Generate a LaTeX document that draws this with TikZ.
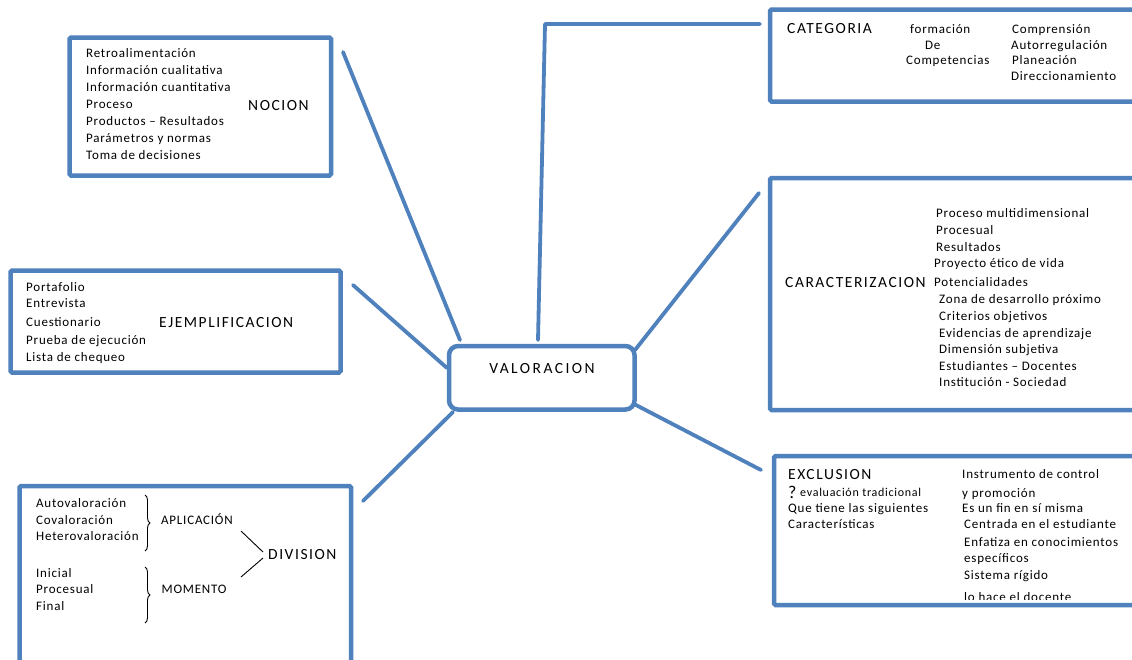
\documentclass[tikz,border=0pt]{standalone}
\usepackage{fontspec}
\setmainfont{Carlito}
\newfontfamily\smallf{Carlito}[LetterSpace=6]
\newfontfamily\labf{Carlito}[LetterSpace=10]
\newfontfamily\valf{Carlito}[LetterSpace=16]
\usetikzlibrary{decorations.pathreplacing}
\definecolor{mapblue}{RGB}{79,129,189}
\begin{document}
\begin{tikzpicture}[x=1pt,y=-1pt,
  box/.style={draw=mapblue,line width=4.5pt,rounded corners=1.5pt,outer sep=0pt,inner sep=0pt,anchor=north west},
  valbox/.style={draw=mapblue,line width=4.5pt,rounded corners=9pt,outer sep=0pt,inner sep=0pt},
  conn/.style={draw=mapblue,line width=3.8pt,line cap=round},
  txt/.style={anchor=base west,inner sep=0pt,yshift=-4.3pt,font=\smallf\fontsize{13}{17}\selectfont},
  lab/.style={anchor=base west,inner sep=0pt,yshift=-5pt,font=\labf\fontsize{15.5}{18}\selectfont},
  thin/.style={draw=black,line width=0.9pt}]
\clip (0,0) rectangle (1132,659);
\fill[white] (0,0) rectangle (1132,659);

% ---- boxes ----
\node[box,minimum width=261.5pt,minimum height=138pt] (nocbox) at (69.5,37.5) {};
\node[box,minimum width=400pt,minimum height=92pt] (catbox) at (770,9.5) {};
\node[box,minimum width=400pt,minimum height=232pt] (carbox) at (770,178) {};
\node[box,minimum width=400pt,minimum height=149pt] (excbox) at (774,456) {};
\node[box,minimum width=330pt,minimum height=102pt] (ejebox) at (10.5,270.5) {};
\node[box,minimum width=331.5pt,minimum height=200pt] (divbox) at (19.5,486) {};
\node[valbox,minimum width=185.5pt,minimum height=63.5pt] (val) at (541.75,377.75) {};
\node[anchor=base,inner sep=0pt,font=\valf\fontsize{15.5}{18}\selectfont] (valt) at (542,373) {VALORACION};

% ---- connectors ----
\coordinate (vn1) at (460,340);  \coordinate (en1) at (343,52);
\coordinate (vn2) at (538,340);  \coordinate (bend2) at (545,24); \coordinate (en2) at (760,24);
\coordinate (vn3) at (635,350);  \coordinate (en3) at (759,193);
\coordinate (vn4) at (634,404);  \coordinate (en4) at (761,470);
\coordinate (vn5) at (447,368);  \coordinate (en5) at (353,285);
\coordinate (vn6) at (453,412);  \coordinate (en6) at (363,501);
\draw[conn] (vn1) -- (en1);
\draw[conn,line join=round] (vn2) -- (bend2) -- (en2);
\draw[conn] (vn3) -- (en3);
\draw[conn] (vn4) -- (en4);
\draw[conn] (vn5) -- (en5);
\draw[conn] (vn6) -- (en6);

% ---- NOCION ----
\foreach \t [count=\i] in {Retroalimentación,Información cualitativa,Información cuantitativa,Proceso,Productos – Resultados,Parámetros y normas,Toma de decisiones}
  \node[txt] (noc\i) at (86,36+17*\i) {\t};
\node[lab] (noc) at (248,105) {NOCION};

% ---- CATEGORIA ----
\node[lab] (cat) at (787,28) {CATEGORIA};
\node[txt] (cata1) at (910,29) {formación};
\node[txt] (cata2) at (925,45) {De};
\node[txt] (cata3) at (906,60) {Competencias};
\node[txt] (catb1) at (1012,29) {Comprensión};
\node[txt] (catb2) at (1011,45) {Autorregulación};
\node[txt] (catb3) at (1012,60) {Planeación};
\node[txt] (catb4) at (1011,76) {Direccionamiento};

% ---- CARACTERIZACION ----
\node[lab] (car) at (785,282) {CARACTERIZACION};
\foreach \x/\y/\t [count=\i] in {936/213/Proceso multidimensional,936/230/Procesual,936/247/Resultados,934/263/Proyecto ético de vida,934/282/Potencialidades,939/299/Zona de desarrollo próximo,939/316/Criterios objetivos,939/333/Evidencias de aprendizaje,939/349/Dimensión subjetiva,939/366/Estudiantes – Docentes,939/382/Institución - Sociedad}
  \node[txt] (car\i) at (\x,\y) {\t};

% ---- EXCLUSION ----
\node[lab] (exc) at (788,474) {EXCLUSION};
\node[anchor=base west,inner sep=0pt,font=\fontsize{18}{18}\selectfont] (excq) at (788,498) {?};
\node[txt,font=\smallf\fontsize{12}{17}\selectfont] (exca1) at (800,492) {evaluación tradicional};
\node[txt] (exca2) at (788,508) {Que tiene las siguientes};
\node[txt] (exca3) at (788,524) {Características};
\node[txt] (excb1) at (962,474) {Instrumento de control};
\node[txt] (excb2) at (962,493) {y promoción};
\node[txt] (excb3) at (962,508) {Es un fin en sí misma};
\node[txt] (excb4) at (964,524) {Centrada en el estudiante};
\node[txt] (excb5) at (964,542) {Enfatiza en conocimientos};
\node[txt] (excb6) at (964,558) {específicos};
\node[txt] (excb7) at (964,575) {Sistema rígido};
\begin{scope}
  \clip (780,560) rectangle (1132,599.5);
  \node[txt] (excb8) at (964,597) {lo hace el docente};
\end{scope}

% ---- EJEMPLIFICACION ----
\foreach \y/\t [count=\i] in {287/Portafolio,303/Entrevista,322/Cuestionario,340/Prueba de ejecución,357/Lista de chequeo}
  \node[txt] (eje\i) at (26,\y) {\t};
\node[lab] (eje) at (159,322) {EJEMPLIFICACION};

% ---- DIVISION ----
\foreach \y/\t [count=\i] in {503/Autovaloración,520/Covaloración,536/Heterovaloración}
  \node[txt] (apl\i) at (36,\y) {\t};
\foreach \y/\t [count=\i] in {573/Inicial,589/Procesual,606/Final}
  \node[txt] (mom\i) at (36,\y) {\t};
\node[txt] (apl) at (161,520) {APLICACIÓN};
\node[txt] (mom) at (161.5,589) {MOMENTO};
\node[lab] (div) at (268,554) {DIVISION};
\coordinate (b1t) at (145,495); \coordinate (b1b) at (145,551);
\coordinate (b2t) at (145,567); \coordinate (b2b) at (145,623);
\draw[thin,decorate,decoration={brace,amplitude=5pt,aspect=0.5}] (b1t) -- (b1b);
\draw[thin,decorate,decoration={brace,amplitude=5pt,aspect=0.5}] (b2t) -- (b2b);
\coordinate (d1a) at (241,531); \coordinate (d1b) at (263,552);
\coordinate (d2a) at (241,577); \coordinate (d2b) at (263,558);
\draw[thin] (d1a) -- (d1b);
\draw[thin] (d2a) -- (d2b);
\end{tikzpicture}
\end{document}
